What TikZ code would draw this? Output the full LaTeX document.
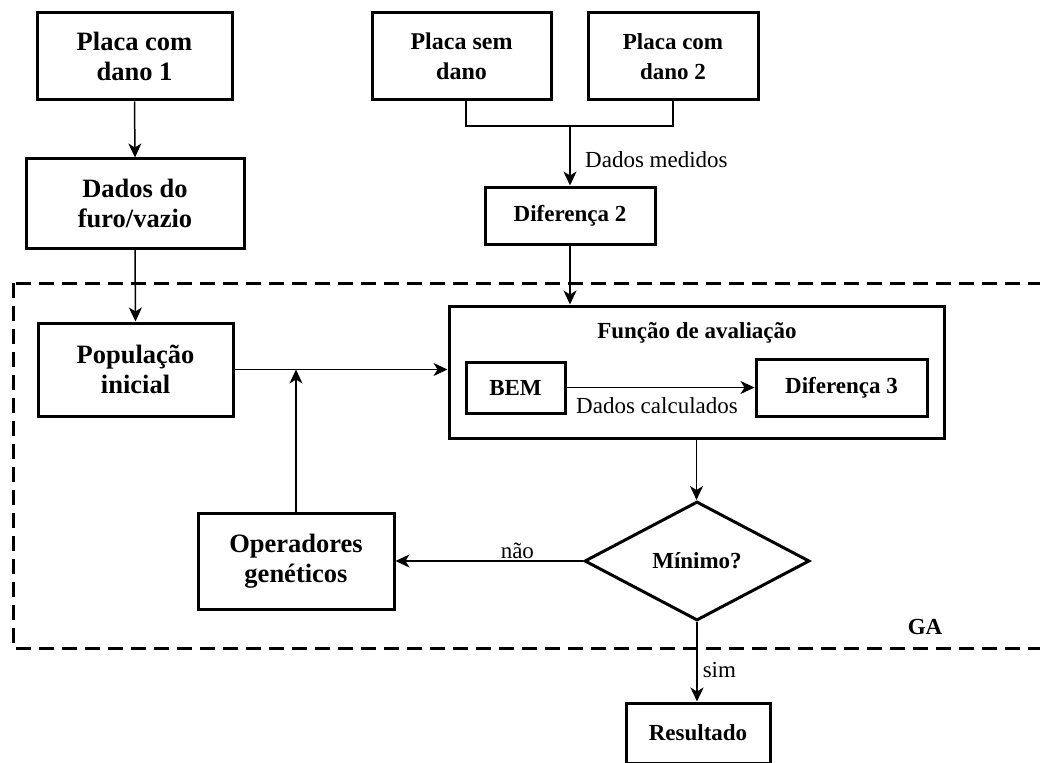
\documentclass[tikz,border=0pt]{standalone}
\usepackage{fontspec}
\setmainfont{Liberation Serif}
\usetikzlibrary{shapes.geometric,arrows.meta}
\begin{document}
\begin{tikzpicture}[x=1pt,y=-1pt,
  box/.style={draw,line width=3pt,rectangle,align=center,inner sep=0pt,
    font=\fontsize{23}{30}\selectfont\bfseries},
  bigbox/.style={box,font=\fontsize{26.5}{30}\selectfont\bfseries},
  lbl/.style={font=\fontsize{23}{29}\selectfont,inner sep=2pt},
  conn/.style={line width=1.5pt},
  arr/.style={conn,-{Stealth[length=14pt,width=13pt,inset=4pt]}},
  gabox/.style={line width=3pt,dash pattern=on 15pt off 8pt}]
\useasboundingbox (0,0) rectangle (1040,762);
\clip (0,0) rectangle (1040,762);
\fill[white] (0,0) rectangle (1040,762);

% dashed GA region
\draw[gabox] (13,283) rectangle (1060,648);
\node[lbl,font=\fontsize{23}{29}\selectfont\bfseries] (ga) at (925,627) {GA};

% boxes
\node[bigbox,minimum width=195,minimum height=87] (p1) at (134.5,56.5) {Placa com\\dano 1};
\node[bigbox,minimum width=218,minimum height=89] (dados) at (135,203.5) {Dados do\\furo/vazio};
\node[box,minimum width=179,minimum height=87,font=\fontsize{24}{30}\selectfont\bfseries] (psd) at (461.5,56.5) {Placa sem\\dano};
\node[box,minimum width=170,minimum height=87] (p2) at (673,56.5) {Placa com\\dano 2};
\node[box,minimum width=170,minimum height=57] (dif2) at (570,215.5) {Diferença 2};
\node[bigbox,minimum width=195,minimum height=93] (pop) at (135.5,369.5) {População\\inicial};
\node[box,minimum width=495,minimum height=132] (func) at (696.5,372) {};
\node[lbl,font=\fontsize{23}{29}\selectfont\bfseries] (ftitle) at (697,333) {Função de avaliação};
\node[box,minimum width=99,minimum height=51] (bem) at (515.5,387.5) {BEM};
\node[box,minimum width=171,minimum height=57] (dif3) at (841.5,387.5) {Diferença 3};
\node[bigbox,minimum width=196,minimum height=96] (ops) at (296,561) {Operadores\\genéticos};
\node[box,shape=diamond,minimum width=225,minimum height=119] (dec) at (697,561) {Mínimo?};
\node[box,minimum width=144,minimum height=60] (res) at (698,733) {Resultado};

% connectors
\coordinate (j) at (570,126);
\coordinate (js) at (466,126);
\draw[arr] (p1.south) -- (dados.north);
\draw[arr] (dados.south) -- (pop.north);
\draw[conn] (js |- psd.south) -- (js) -- (j) -| (p2.south);
\draw[arr] (j) -- (dif2.north);
\node[lbl,anchor=west] (dm) at (583,160) {Dados medidos};
\draw[arr] (dif2.south) -- (dif2.south |- func.north);
\draw[arr] (pop.east) -- (pop.east -| func.west);
\draw[arr] (ops.north) -- (ops.north |- pop.east);
\draw[arr] (bem.east) -- (bem.east -| dif3.west);
\node[lbl] (dc) at (657,406) {Dados calculados};
\draw[arr] (func.south) -- (func.south |- dec.north);
\draw[arr] (dec.west) -- node[lbl,pos=0.35,above] (nao) {não} (dec.west -| ops.east);
\draw[arr] (dec.south) -- node[lbl,pos=0.6,right,xshift=3pt] (sim) {sim} (dec.south |- res.north);
\end{tikzpicture}
\end{document}
